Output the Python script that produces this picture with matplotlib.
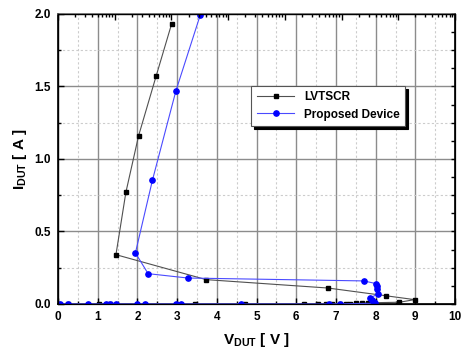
import numpy as np
import matplotlib
matplotlib.use("Agg")
import matplotlib.pyplot as plt
from matplotlib.ticker import MultipleLocator, NullFormatter

plt.rcParams['font.family'] = ['Liberation Sans', 'DejaVu Sans']
plt.rcParams['font.weight'] = 'bold'
plt.rcParams['mathtext.fontset'] = 'custom'
plt.rcParams['mathtext.rm'] = 'Liberation Sans:bold'
plt.rcParams['mathtext.it'] = 'Liberation Sans:bold'
plt.rcParams['mathtext.bf'] = 'Liberation Sans:bold'

# LVTSCR TLP curve (V, A)
lvtscr_v = [0.0, 0.25, 1.04, 1.3, 3.45, 4.7, 6.2, 6.55, 6.75, 6.9, 7.1, 7.25, 7.35, 7.5, 7.65, 7.8,
            8.6, 8.98, 8.25, 6.8, 3.73, 1.46, 1.71, 2.03, 2.47, 2.86]
lvtscr_i = [0.0, 0.0, 0.0, 0.0, 0.001, 0.001, 0.001, 0.001, 0.001, 0.002, 0.002, 0.003, 0.003, 0.004, 0.005, 0.008,
            0.012, 0.030, 0.057, 0.110, 0.168, 0.340, 0.770, 1.160, 1.570, 1.930]

# Proposed device TLP curve (V, A)
prop_v = [0.04, 0.25, 0.76, 1.2, 1.3, 1.45, 1.98, 2.2, 2.96, 3.11, 4.62, 6.83, 7.1,
          7.99, 7.96, 7.92, 7.87, 8.07, 8.03, 8.03, 8.02, 7.70, 3.27, 2.27, 1.95, 2.38, 2.97, 3.58]
prop_i = [0.0, 0.0, 0.0, 0.0, 0.0, 0.0, 0.0, 0.0, 0.0, 0.0, 0.0, 0.0, 0.001,
          0.005, 0.016, 0.030, 0.043, 0.071, 0.103, 0.122, 0.140, 0.159, 0.179, 0.209, 0.352, 0.855, 1.470, 1.990]

fig = plt.figure(figsize=(4.62, 3.49), dpi=100)
ax = fig.add_axes([0.1255, 0.129, 0.8595, 0.831])

ax.plot(lvtscr_v, lvtscr_i, color='#505050', lw=0.8, marker='s', ms=3.5,
        mfc='black', mec='black', label='LVTSCR', zorder=4)
ax.plot(prop_v, prop_i, color='#4a4aff', lw=0.8, marker='o', ms=3.8,
        mfc='#0000ff', mec='#0000ff', label='Proposed Device', zorder=5)

ax.set_xlim(0, 10)
ax.set_ylim(0, 2.0)
ax.xaxis.set_major_locator(MultipleLocator(1))
ax.xaxis.set_minor_locator(MultipleLocator(0.5))
ax.yaxis.set_major_locator(MultipleLocator(0.5))
ax.yaxis.set_minor_locator(MultipleLocator(0.25))
ax.set_yticks(np.arange(0, 2.01, 0.5))
ax.set_yticklabels(['0.0', '0.5', '1.0', '1.5', '2.0'])

ax.grid(which='major', color='#8c8c8c', lw=1.0, ls='-')
ax.grid(which='minor', color='#cccccc', lw=0.8, ls=(0, (2, 2)))
ax.set_axisbelow(True)

ax.tick_params(which='major', direction='in', length=4, width=1, labelsize=8.5, pad=5)
ax.tick_params(which='minor', direction='in', length=2.5, width=1)
for lab in ax.get_xticklabels() + ax.get_yticklabels():
    lab.set_fontweight('bold')

for s in ax.spines.values():
    s.set_linewidth(1.2)
ax.spines['top'].set_color('#707070')

ax.set_xlabel(r'V$_{\mathrm{DUT}}$ [ V ]', fontsize=11, fontweight='bold', labelpad=6)
ax.set_ylabel(r'I$_{\mathrm{DUT}}$ [ A ]', fontsize=11, fontweight='bold', labelpad=4)

# top axis with log-style ticks, right axis with fine ticks
top = ax.twiny()
top.set_xscale('log')
top.set_xlim(1e-3, 1e4)
top.xaxis.set_major_formatter(NullFormatter())
top.xaxis.set_minor_formatter(NullFormatter())
top.tick_params(which='major', direction='in', length=4, width=1)
top.tick_params(which='minor', direction='in', length=2.5, width=1)

right = ax.twinx()
right.set_ylim(0, 2.0)
right.set_yticks(np.arange(0, 2.01, 0.125))
right.yaxis.set_major_formatter(NullFormatter())
right.tick_params(direction='in', length=3, width=1)

leg = ax.legend(loc='upper left', bbox_to_anchor=(0.472, 0.772), fontsize=8.5,
                frameon=True, fancybox=False, edgecolor='#555555', framealpha=1,
                shadow={'color': 'black', 'alpha': 1}, handlelength=3.2,
                borderpad=0.45, labelspacing=0.45)
leg.get_frame().set_linewidth(0.8)
for t in leg.get_texts():
    t.set_fontweight('bold')
leg.set_zorder(10)

fig.savefig('out.png', dpi=100)
